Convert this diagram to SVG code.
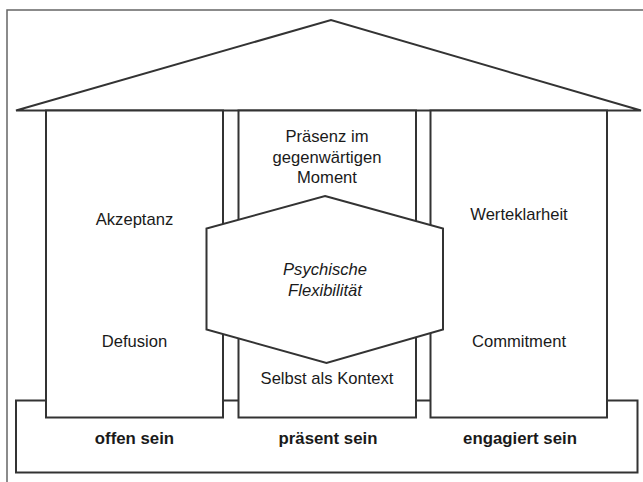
<svg xmlns="http://www.w3.org/2000/svg" width="643" height="482" viewBox="0 0 643 482">
<style>
.frame{fill:none;stroke:#666;stroke-width:1.5}
.shape{fill:#fff;stroke:#333;stroke-width:2;stroke-linejoin:miter}
.t{font-family:"Liberation Sans",Arial,sans-serif;font-size:16.6px;fill:#1a1a1a;text-anchor:middle}
.i{font-style:italic}
.b{font-weight:bold;font-size:16.8px}
</style>
<rect width="643" height="482" fill="#fff"/>
<rect class="frame" x="7" y="10" width="660" height="490"/>
<g id="roof"><polygon class="shape" points="16,110.5 331,20 641,110.5"/></g>
<g id="base">
<rect class="shape" x="16" y="400.5" width="621.5" height="72"/>
<text class="t b" x="134.5" y="444">offen sein</text>
<text class="t b" x="328" y="444">präsent sein</text>
<text class="t b" x="520" y="444">engagiert sein</text>
</g>
<g id="pillar-left">
<rect class="shape" x="46" y="110.5" width="177" height="307"/>
<text class="t" x="134.5" y="225">Akzeptanz</text>
<text class="t" x="134.5" y="347">Defusion</text>
</g>
<g id="pillar-middle">
<rect class="shape" x="238.5" y="110.5" width="177.5" height="307"/>
<text class="t" x="327" y="142">Präsenz im</text>
<text class="t" x="327" y="163">gegenwärtigen</text>
<text class="t" x="327" y="183">Moment</text>
<text class="t" x="327" y="384">Selbst als Kontext</text>
</g>
<g id="pillar-right">
<rect class="shape" x="430.5" y="110.5" width="176.5" height="307"/>
<text class="t" x="519" y="220">Werteklarheit</text>
<text class="t" x="519" y="347">Commitment</text>
</g>
<g id="hexagon">
<polygon class="shape" points="325,196 443,228.5 443,329.5 326.5,363 206.5,329.5 206.5,228.5"/>
<text class="t i" x="325" y="275">Psychische</text>
<text class="t i" x="325" y="296">Flexibilität</text>
</g>
<g id="connectors"/>
</svg>
